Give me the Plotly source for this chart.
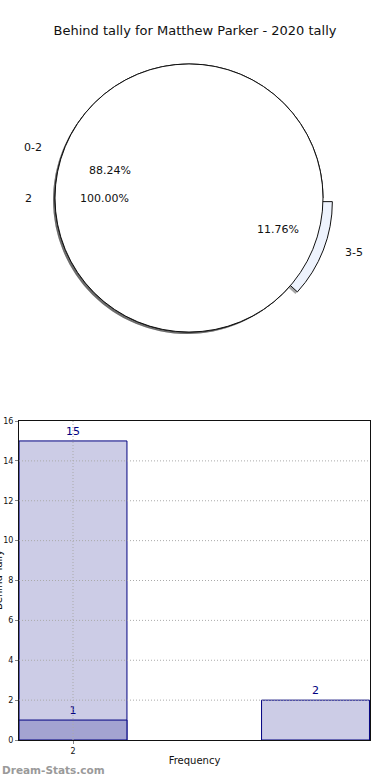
import math
import plotly.graph_objects as go

# ---- data ----
title_text = "Behind tally for Matthew Parker - 2020 tally"
outer_labels = ["0-2", "3-5"]
outer_values = [15, 2]
inner_labels = ["2"]
inner_values = [1]

bar_positions = [0, 1]
bar_values = [15, 2]
overlay_positions = [0]
overlay_values = [1]
tick_positions = [0]
tick_labels = ["2"]
y_ticks = [0, 2, 4, 6, 8, 10, 12, 14, 16]

x_title = "Frequency"
y_title = "Behind Tally"
watermark = "Dream-Stats.com"

# ---- layout geometry ----
W, H = 390, 780
ML, MR, MT, MB = 19, 20, 40, 40
PW, PH = W - ML - MR, H - MT - MB

def px_to_paper(x, y):
    return (x - ML) / PW, (H - MB - y) / PH

def dom(cx, cy, r):
    px, py = px_to_paper(cx, cy)
    hx, hy = r / PW, r / PH
    return dict(x=[px - hx, px + hx], y=[py - hy, py + hy])

CX, CY, R = 189, 198, 134
PULL = 0.075
SHX, SHY = -2, 2  # shadow offset in px
FONT = "DejaVu Sans"
TXT = "#111111"
SHADOW = "rgba(0,0,0,0.35)"

fig = go.Figure()

outer_total = sum(outer_values)
rot_outer = 90 + 360 * outer_values[-1] / outer_total
pulls = [0] * (len(outer_values) - 1) + [PULL]

def outer_pie(colors, line, dx=0, dy=0):
    return go.Pie(
        labels=outer_labels, values=outer_values, sort=False,
        direction="counterclockwise", rotation=rot_outer,
        pull=pulls, domain=dom(CX + dx, CY + dy, R * (1 + PULL)),
        marker=dict(colors=colors, line=line),
        textinfo="none", hoverinfo="skip", showlegend=False,
    )

def inner_pie(colors, line, dx=0, dy=0):
    return go.Pie(
        labels=inner_labels, values=inner_values, sort=False,
        direction="counterclockwise", rotation=90,
        domain=dom(CX + dx, CY + dy, R),
        marker=dict(colors=colors, line=line),
        textinfo="none", hoverinfo="skip", showlegend=False,
    )

fig.add_trace(outer_pie([SHADOW] * 2, dict(width=0), SHX, SHY))
fig.add_trace(outer_pie(["#ffffff", "#eef3fd"], dict(color=TXT, width=1)))
fig.add_trace(inner_pie([SHADOW], dict(width=0), SHX, SHY))
fig.add_trace(inner_pie(["#ffffff"], dict(color=TXT, width=1)))

# ---- pie texts (pct at 0.6 r, labels at 1.1 r) ----
RX, RY = 141, 128
annotations = []

def slice_texts(labels, values, explode):
    total = sum(values)
    start = 0.0
    for i, (lab, v) in enumerate(zip(labels, values)):
        span = 360 * v / total
        mid = math.radians(start + span / 2)
        ex = explode[i]
        c, s = math.cos(mid), math.sin(mid)
        px, py = px_to_paper(CX + (0.6 + ex) * RX * c, CY - (0.6 + ex) * RY * s)
        annotations.append(dict(text=f"{100 * v / total:.2f}%", x=px, y=py,
                                xref="paper", yref="paper", showarrow=False,
                                xanchor="center", yanchor="middle",
                                font=dict(family=FONT, size=11, color=TXT)))
        lx, ly = px_to_paper(CX + (1.1 + ex) * RX * c, CY - (1.1 + ex) * RY * s)
        annotations.append(dict(text=lab, x=lx, y=ly,
                                xref="paper", yref="paper", showarrow=False,
                                xanchor="left" if c > 0 else "right", yanchor="middle",
                                font=dict(family=FONT, size=11, color=TXT)))
        start += span

slice_texts(outer_labels, outer_values, pulls)
slice_texts(inner_labels, inner_values, [0])

# ---- bar chart ----
fig.add_trace(go.Bar(
    x=bar_positions, y=bar_values, width=0.445,
    marker=dict(color="#ccccE6", line=dict(color="#000080", width=1)),
    text=[str(v) for v in bar_values], textposition="outside",
    textfont=dict(family=FONT, size=11, color="#000080"),
    cliponaxis=False, hoverinfo="skip", showlegend=False,
))
fig.add_trace(go.Bar(
    x=overlay_positions, y=overlay_values, width=0.445,
    marker=dict(color="#a3a3d1", line=dict(color="#000080", width=1)),
    text=[str(v) for v in overlay_values], textposition="outside",
    textfont=dict(family=FONT, size=11, color="#000080"),
    cliponaxis=False, hoverinfo="skip", showlegend=False,
))

bar_top_px = 421
ytop = (H - MB - bar_top_px) / PH

wx, wy = px_to_paper(0, 770)
annotations.append(dict(
    text=watermark, xref="paper", yref="paper", x=wx, y=wy,
    xanchor="left", yanchor="middle", showarrow=False,
    font=dict(family=FONT, size=10.5, color="#9a9a9a", weight="bold"),
))
# y-axis title, sitting at the very left edge of the page as in the reference
tx, ty = px_to_paper(-2, 580)
annotations.append(dict(
    text=y_title, xref="paper", yref="paper", x=tx, y=ty, textangle=-90,
    xanchor="center", yanchor="middle", showarrow=False,
    font=dict(family=FONT, size=10, color=TXT),
))

grid = dict(color="#aaaaaa", width=1, dash="1px,2px")
shapes = []
for yv in y_ticks[1:-1]:
    shapes.append(dict(type="line", xref="x domain", yref="y", x0=0, x1=1, y0=yv, y1=yv,
                       line=grid, layer="above"))
for xv in tick_positions:
    shapes.append(dict(type="line", xref="x", yref="y domain", x0=xv, x1=xv, y0=0, y1=1,
                       line=grid, layer="above"))

axis_common = dict(
    showgrid=False,
    showline=True, linecolor=TXT, linewidth=1, mirror=True,
    ticks="outside", ticklen=3, tickcolor="#888888",
    tickfont=dict(family=FONT, size=8, color=TXT),
    zeroline=False, automargin=False, layer="above traces",
)

fig.update_layout(
    width=W, height=H,
    margin=dict(l=ML, r=MR, t=MT, b=MB, autoexpand=False),
    paper_bgcolor="white", plot_bgcolor="white",
    barmode="overlay", bargap=0,
    font=dict(family=FONT, color=TXT),
    title=dict(text=title_text, x=0.5, xanchor="center", xref="container",
               y=1 - 30 / H, yanchor="middle", yref="container",
               font=dict(family=FONT, size=13, color=TXT)),
    xaxis=dict(domain=[0, 1], range=[-0.2227, 1.2247],
               tickvals=tick_positions, ticktext=tick_labels,
               title=dict(text=x_title, font=dict(family=FONT, size=10), standoff=2),
               **axis_common),
    yaxis=dict(domain=[0, ytop], range=[0, 16], tickvals=y_ticks,
               **axis_common),
    annotations=annotations,
    shapes=shapes,
)

fig.write_html("out.html",
               config={"displayModeBar": False, "staticPlot": True},
               post_script="document.body.style.margin='0';document.body.style.padding='0';")
